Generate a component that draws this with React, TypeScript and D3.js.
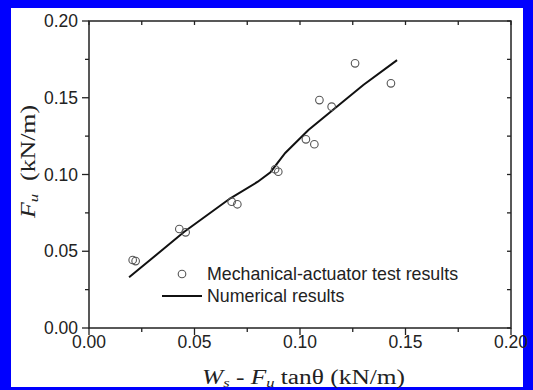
import React, { useEffect, useRef } from 'react'
import * as d3 from 'd3'

// measured test results (x: Ws - Fu tanθ, y: Fu), kN/m
const testX = [0.0207, 0.0221, 0.0428, 0.0458, 0.0676, 0.0703, 0.0882, 0.0897, 0.1028, 0.1068, 0.1092, 0.1150, 0.1261, 0.1431]
const testY = [0.0443, 0.0436, 0.0645, 0.0623, 0.0823, 0.0806, 0.1034, 0.1018, 0.1229, 0.1197, 0.1485, 0.1442, 0.1724, 0.1594]

// numerical results
const numX = [0.019, 0.045, 0.067, 0.080, 0.086, 0.093, 0.104, 0.130, 0.146]
const numY = [0.0330, 0.0625, 0.0845, 0.0953, 0.1015, 0.1140, 0.1290, 0.1583, 0.1745]

const xTicks = [0, 0.05, 0.1, 0.15, 0.2]
const yTicks = [0, 0.05, 0.1, 0.15, 0.2]
const minorTicks = [0.025, 0.075, 0.125, 0.175]

const legendLabels = ['Mechanical-actuator test results', 'Numerical results']

function App () {
  const ref = useRef<SVGSVGElement>(null)

  useEffect(() => {
    const svg = d3.select(ref.current)
    svg.selectAll('*').remove()

    const W = 533
    const H = 390
    const margin = { top: 21, right: 22, bottom: 62, left: 89 }
    const width = W - margin.left - margin.right
    const height = H - margin.top - margin.bottom
    const axisColor = '#222'
    const font = 'Liberation Sans, Arial, sans-serif'
    const serif = 'Liberation Serif, Times New Roman, serif'

    // blue frame
    svg.append('rect').attr('width', W).attr('height', H).attr('fill', '#0000ff')
    svg.append('rect').attr('x', 11).attr('y', 8).attr('width', 512).attr('height', 379).attr('fill', '#fff')

    const g = svg.append('g')
      .attr('transform', 'translate(' + margin.left + ',' + margin.top + ')')

    const x = d3.scaleLinear().domain([0, 0.2]).range([0, width])
    const y = d3.scaleLinear().domain([0, 0.2]).range([height, 0])

    // bottom axis (outward ticks)
    const bottom = g.append('g').attr('transform', 'translate(0,' + height + ')')
    bottom.selectAll('.maj').data(xTicks).enter().append('line')
      .attr('x1', d => x(d)).attr('x2', d => x(d)).attr('y1', 0).attr('y2', 7)
      .attr('stroke', axisColor).attr('stroke-width', 1.3)
    bottom.selectAll('.min').data(minorTicks).enter().append('line')
      .attr('x1', d => x(d)).attr('x2', d => x(d)).attr('y1', 0).attr('y2', 4)
      .attr('stroke', axisColor).attr('stroke-width', 1.3)
    bottom.selectAll('text').data(xTicks).enter().append('text')
      .attr('x', d => x(d)).attr('y', 20)
      .attr('text-anchor', 'middle')
      .attr('font-family', font).attr('font-size', 17.5).attr('fill', axisColor)
      .text(d => d3.format('.2f')(d))

    // left axis (outward ticks)
    const left = g.append('g')
    left.selectAll('.maj').data(yTicks).enter().append('line')
      .attr('x1', -7).attr('x2', 0).attr('y1', d => y(d)).attr('y2', d => y(d))
      .attr('stroke', axisColor).attr('stroke-width', 1.3)
    left.selectAll('.min').data(minorTicks).enter().append('line')
      .attr('x1', -4).attr('x2', 0).attr('y1', d => y(d)).attr('y2', d => y(d))
      .attr('stroke', axisColor).attr('stroke-width', 1.3)
    left.selectAll('text').data(yTicks).enter().append('text')
      .attr('x', -11).attr('y', d => y(d)).attr('dy', '0.35em')
      .attr('text-anchor', 'end')
      .attr('font-family', font).attr('font-size', 17.5).attr('fill', axisColor)
      .text(d => d3.format('.2f')(d))

    // top and right axes (inward ticks)
    const allX = xTicks.concat(minorTicks)
    g.selectAll('.topTick').data(allX).enter().append('line')
      .attr('x1', d => x(d)).attr('x2', d => x(d)).attr('y1', 0).attr('y2', 4)
      .attr('stroke', axisColor).attr('stroke-width', 1.3)
    g.selectAll('.rightTick').data(allX).enter().append('line')
      .attr('x1', width - 4).attr('x2', width).attr('y1', d => y(d)).attr('y2', d => y(d))
      .attr('stroke', axisColor).attr('stroke-width', 1.3)

    g.append('rect')
      .attr('width', width).attr('height', height)
      .attr('fill', 'none').attr('stroke', axisColor).attr('stroke-width', 1.5)

    // numerical line
    const pts: [number, number][] = numX.map((v, i) => [v, numY[i]])
    g.append('path')
      .datum(pts)
      .attr('d', d3.line<[number, number]>().x(d => x(d[0])).y(d => y(d[1])))
      .attr('fill', 'none').attr('stroke', '#111').attr('stroke-width', 2)

    // test points
    g.selectAll('.dot').data(testX).enter().append('circle')
      .attr('cx', d => x(d)).attr('cy', (d, i) => y(testY[i]))
      .attr('r', 3.8)
      .attr('fill', 'none').attr('stroke', '#555').attr('stroke-width', 1.1)

    // legend
    const lg = svg.append('g')
    lg.append('circle').attr('cx', 182).attr('cy', 274).attr('r', 3.8)
      .attr('fill', 'none').attr('stroke', '#555').attr('stroke-width', 1.1)
    lg.append('line').attr('x1', 162).attr('x2', 202).attr('y1', 296).attr('y2', 296)
      .attr('stroke', '#111').attr('stroke-width', 2)
    lg.selectAll('text').data(legendLabels).enter().append('text')
      .attr('x', 207).attr('y', (d, i) => 274 + i * 22).attr('dy', '0.35em')
      .attr('font-family', font).attr('font-size', 17.8).attr('fill', '#222')
      .text(d => d)

    // x axis label
    const xl = svg.append('text')
      .attr('x', 202).attr('y', 384)
      .attr('textLength', 203).attr('lengthAdjust', 'spacingAndGlyphs')
      .attr('font-family', serif)
      .attr('font-size', 20).attr('fill', '#222')
    xl.append('tspan').attr('font-style', 'italic').text('W')
    xl.append('tspan').attr('font-style', 'italic').attr('font-size', 13).attr('dy', 3).text('s')
    xl.append('tspan').attr('dy', -3).text(' - ')
    xl.append('tspan').attr('font-style', 'italic').text('F')
    xl.append('tspan').attr('font-style', 'italic').attr('font-size', 13).attr('dy', 3).text('u')
    xl.append('tspan').attr('dy', -3).text(' tanθ (kN/m)')

    // y axis label
    const yl = svg.append('text')
      .attr('transform', 'translate(35,218) rotate(-90)')
      .attr('textLength', 113).attr('lengthAdjust', 'spacingAndGlyphs')
      .attr('font-family', serif)
      .attr('font-size', 20).attr('fill', '#222')
    yl.append('tspan').attr('font-style', 'italic').text('F')
    yl.append('tspan').attr('font-style', 'italic').attr('font-size', 13).attr('dy', 3).text('u')
    yl.append('tspan').attr('dy', -3).text('\u00a0\u00a0(kN/m)')
  }, [])

  return (
    <svg ref={ref} width={533} height={390}
      style={{ position: 'absolute', left: 0, top: 0, display: 'block' }} />
  )
}

export default App
